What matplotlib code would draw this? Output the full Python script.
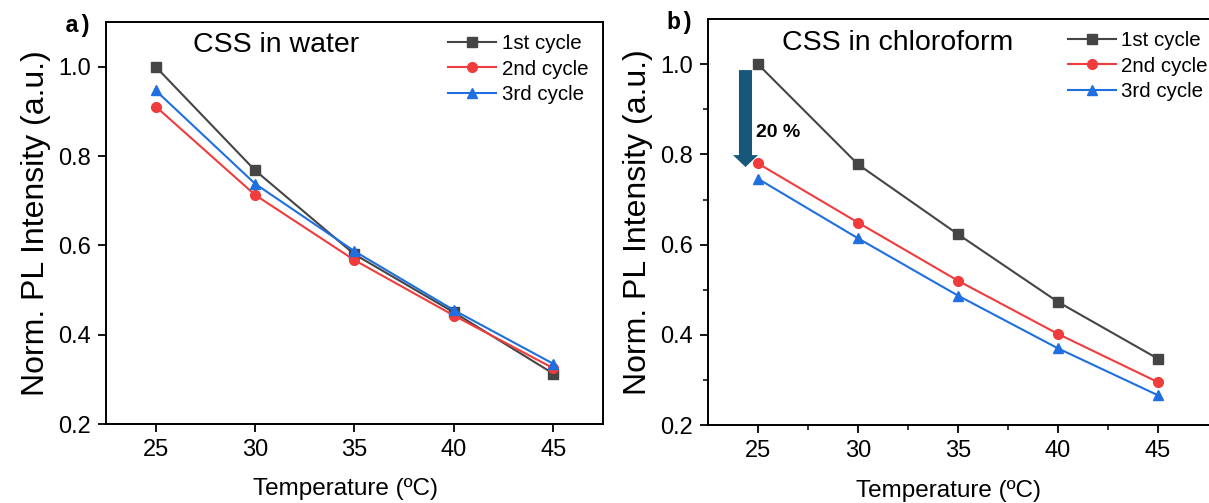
import numpy as np
import matplotlib.pyplot as plt

# Data
temps = [25, 30, 35, 40, 45]
water_1st = [1.000, 0.768, 0.580, 0.450, 0.313]
water_2nd = [0.911, 0.713, 0.567, 0.443, 0.325]
water_3rd = [0.947, 0.738, 0.587, 0.455, 0.335]
chcl3_1st = [1.000, 0.778, 0.623, 0.473, 0.347]
chcl3_2nd = [0.780, 0.649, 0.520, 0.402, 0.295]
chcl3_3rd = [0.746, 0.614, 0.487, 0.370, 0.266]
cycle_labels = ['1st cycle', '2nd cycle', '3rd cycle']

colors = ['#454545', '#f03c3c', '#1f6fe0']
markers = ['s', 'o', '^']

plt.rcParams['font.family'] = ['Liberation Sans', 'DejaVu Sans']

fig = plt.figure(figsize=(12.09, 5.03), dpi=100)
ax1 = fig.add_axes([0.0877, 0.157, 0.411, 0.799])
# right part of panel b runs off the picture, as in the original crop
ax2 = fig.add_axes([0.5856, 0.155, 0.4185, 0.807])

panels = [
    (ax1, [water_1st, water_2nd, water_3rd], 'a)', 47.5, 0.995),
    (ax2, [chcl3_1st, chcl3_2nd, chcl3_3rd], 'b)', 47.8, 1.012),
]

for ax, series, tag, xmax, leg_x in panels:
    for vals, c, m, lab in zip(series, colors, markers, cycle_labels):
        ax.plot(temps, vals, color=c, marker=m, markersize=7, lw=1.5, label=lab)
    ax.set_xlim(22.5, xmax)
    ax.set_ylim(0.2, 1.1)
    ax.set_xticks(temps)
    ax.set_yticks([0.2, 0.4, 0.6, 0.8, 1.0])
    ax.tick_params(direction='out', length=6, width=1.3, labelsize=17, pad=5)
    for s in ax.spines.values():
        s.set_linewidth(1.4)
    ax.set_ylabel('Norm. PL Intensity (a.u.)', fontsize=23, labelpad=5)
    ax.legend(loc='upper right', frameon=False, fontsize=14.8, handlelength=2.35,
              handletextpad=0.25, labelspacing=0.3, borderaxespad=0.2,
              bbox_to_anchor=(leg_x, 1.0))
    ax.text(-0.027, 0.975, tag, transform=ax.transAxes, fontsize=17,
            fontweight='bold', family='Liberation Mono', ha='right', va='baseline')

ax1.set_xlabel('Temperature (ºC)', fontsize=17.5, labelpad=13)
ax1.xaxis.set_label_coords(0.482, -0.135)
ax2.set_xlabel('Temperature (ºC)', fontsize=17.5, labelpad=13)
ax2.xaxis.set_label_coords(0.475, -0.135)

ax1.text(0.175, 0.943, 'CSS in water', transform=ax1.transAxes, fontsize=20.5, va='center')
ax2.text(0.146, 0.94, 'CSS in chloroform', transform=ax2.transAxes, fontsize=20.5, va='center')

ax2.set_xticks([27.5, 32.5, 37.5, 42.5], minor=True)
ax2.set_yticks([0.3, 0.5, 0.7, 0.9], minor=True)
ax2.tick_params(which='minor', direction='out', length=3.5, width=1.1)

# 20 % drop arrow
ax2.annotate('', xy=(24.375, 0.772), xytext=(24.375, 0.987),
             arrowprops=dict(width=9.4, headwidth=18, headlength=8.6, shrink=0,
                             color='#17587a', lw=0))
ax2.text(24.9, 0.849, '20 %', fontsize=14, fontweight='bold', va='center')

fig.savefig('out.png', dpi=100)
